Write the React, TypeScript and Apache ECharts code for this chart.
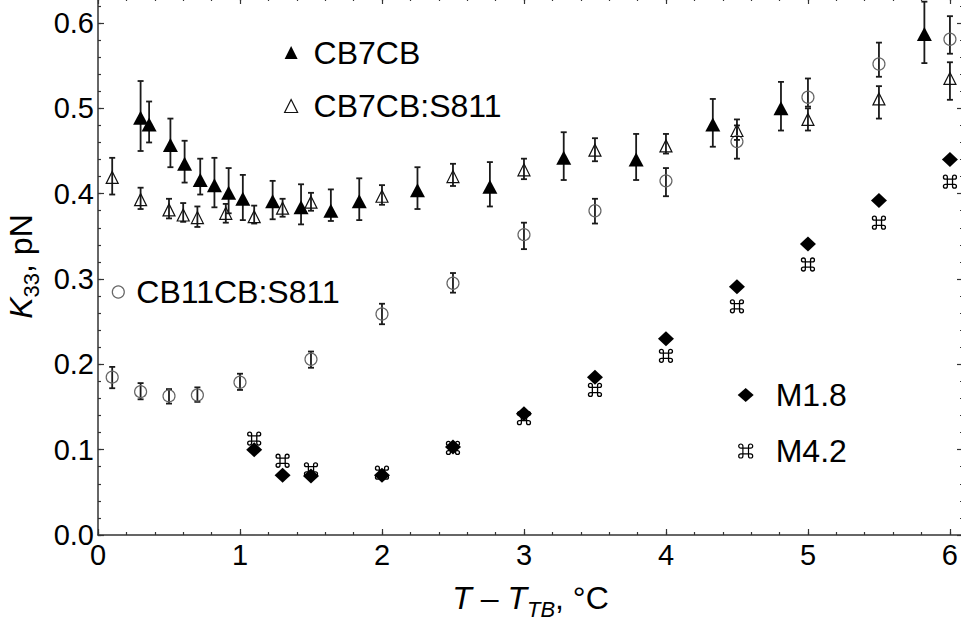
import React, { useEffect, useRef } from 'react';
import * as echarts from 'echarts';

// ---- data ----
const cb7cbX = [0.30, 0.36, 0.51, 0.61, 0.72, 0.82, 0.92, 1.02, 1.23, 1.43, 1.64, 1.84, 2.25, 2.76, 3.28, 3.79, 4.33, 4.81, 5.82];
const cb7cbY = [0.489, 0.481, 0.457, 0.435, 0.416, 0.410, 0.401, 0.394, 0.391, 0.384, 0.380, 0.391, 0.404, 0.408, 0.442, 0.440, 0.481, 0.500, 0.587];
const cb7cbLo = [0.450, 0.460, 0.431, 0.413, 0.399, 0.384, 0.377, 0.369, 0.370, 0.364, 0.368, 0.369, 0.382, 0.385, 0.416, 0.416, 0.455, 0.474, 0.553];
const cb7cbHi = [0.532, 0.508, 0.488, 0.462, 0.441, 0.442, 0.430, 0.422, 0.415, 0.411, 0.405, 0.418, 0.431, 0.437, 0.472, 0.470, 0.511, 0.531, 0.625];

const cb7s811X = [0.10, 0.30, 0.50, 0.60, 0.70, 0.90, 1.10, 1.30, 1.50, 2.00, 2.50, 3.00, 3.50, 4.00, 4.50, 5.00, 5.50, 6.00];
const cb7s811Y = [0.419, 0.393, 0.381, 0.375, 0.372, 0.377, 0.373, 0.383, 0.390, 0.397, 0.420, 0.428, 0.451, 0.456, 0.474, 0.487, 0.511, 0.535];
const cb7s811Lo = [0.399, 0.382, 0.371, 0.367, 0.361, 0.366, 0.365, 0.373, 0.380, 0.387, 0.409, 0.417, 0.438, 0.447, 0.463, 0.474, 0.488, 0.510];
const cb7s811Hi = [0.442, 0.407, 0.394, 0.389, 0.385, 0.388, 0.386, 0.394, 0.401, 0.410, 0.435, 0.441, 0.465, 0.470, 0.487, 0.500, 0.526, 0.554];

const cb11X = [0.10, 0.30, 0.50, 0.70, 1.00, 1.50, 2.00, 2.50, 3.00, 3.50, 4.00, 4.50, 5.00, 5.50, 6.00];
const cb11Y = [0.185, 0.168, 0.163, 0.164, 0.179, 0.206, 0.259, 0.295, 0.352, 0.380, 0.415, 0.461, 0.513, 0.552, 0.581];
const cb11Lo = [0.172, 0.159, 0.154, 0.156, 0.170, 0.196, 0.247, 0.284, 0.335, 0.365, 0.397, 0.441, 0.502, 0.537, 0.564];
const cb11Hi = [0.197, 0.178, 0.171, 0.173, 0.189, 0.215, 0.271, 0.307, 0.366, 0.394, 0.430, 0.480, 0.535, 0.577, 0.608];

const mX = [1.10, 1.30, 1.50, 2.00, 2.50, 3.00, 3.50, 4.00, 4.50, 5.00, 5.50, 6.00];
const m18Y = [0.100, 0.070, 0.069, 0.070, 0.103, 0.142, 0.185, 0.230, 0.291, 0.341, 0.392, 0.440];
const m42Y = [0.113, 0.087, 0.077, 0.073, 0.102, 0.137, 0.170, 0.210, 0.268, 0.317, 0.366, 0.414];

const xTicksMajor = 1;
const xTicksMinor = 0.2;
const yTicksMajor = 0.1;
const yTicksMinor = 0.02;
const X_MAX = 6.092;
const Y_MAX = 0.6293;

const FONT = '"Liberation Sans", Arial, Helvetica, sans-serif';
const CMD = 'path://M8,5A3,3,0,1,0,5,8H19A3,3,0,1,0,16,5V19A3,3,0,1,0,19,16H5A3,3,0,1,0,8,19Z';

const zip2 = (xs: number[], ys: number[]) => xs.map((x, i) => [x, ys[i]]);
const zip3 = (xs: number[], lo: number[], hi: number[]) => xs.map((x, i) => [x, lo[i], hi[i]]);

function errRender(_params: any, api: any) {
  const x = api.value(0);
  const p1 = api.coord([x, api.value(1)]);
  const p2 = api.coord([x, api.value(2)]);
  const w = 3;
  const style = { stroke: '#1a1a1a', lineWidth: 1.8 };
  return {
    type: 'group',
    children: [
      { type: 'line', shape: { x1: p1[0], y1: p1[1], x2: p2[0], y2: p2[1] }, style },
      { type: 'line', shape: { x1: p1[0] - w, y1: p1[1], x2: p1[0] + w, y2: p1[1] }, style },
      { type: 'line', shape: { x1: p2[0] - w, y1: p2[1], x2: p2[0] + w, y2: p2[1] }, style },
    ],
  };
}

const lineCol = '#333';
const TICK_FS = 29;
const LEG_FS = 32;
const TITLE_FS = 32;

function mkX(position: string, interval: number, len: number, major: boolean, labels: boolean, extra: any = {}) {
  return {
    type: 'value',
    position,
    min: 0,
    max: X_MAX,
    interval,
    axisLine: { show: major, onZero: false, lineStyle: { color: lineCol, width: 1.5 } },
    axisTick: { show: true, inside: true, length: len, lineStyle: { color: lineCol, width: 1.2 } },
    axisLabel: labels
      ? { show: true, showMaxLabel: false, margin: 5, fontSize: TICK_FS, color: '#000', fontFamily: FONT, formatter: (v: number) => String(Math.round(v)) }
      : { show: false },
    splitLine: { show: false },
    ...extra,
  };
}
function mkY(position: string, interval: number, len: number, major: boolean, labels: boolean, extra: any = {}) {
  return {
    type: 'value',
    position,
    min: 0,
    max: Y_MAX,
    interval,
    axisLine: { show: major, onZero: false, lineStyle: { color: lineCol, width: 1.5 } },
    axisTick: { show: true, inside: true, length: len, lineStyle: { color: lineCol, width: 1.2 } },
    axisLabel: labels
      ? { show: true, showMaxLabel: false, margin: 4, fontSize: TICK_FS, color: '#000', fontFamily: FONT, formatter: (v: number) => v.toFixed(1) }
      : { show: false },
    splitLine: { show: false },
    ...extra,
  };
}

export default function App() {
  const ref = useRef<HTMLDivElement>(null);
  useEffect(() => {
    const chart = echarts.init(ref.current!, null, { renderer: 'svg' });
    const richBase = { fontFamily: FONT, color: '#000', lineHeight: 44 };
    const option: any = {
      animation: false,
      backgroundColor: '#fff',
      grid: { left: 98, right: -2, top: -2, bottom: 90, containLabel: false, outerBoundsMode: 'none' },
      xAxis: [
        mkX('bottom', xTicksMajor, 6, true, true, {
          name: '{i|T} – {i|T}{s|TB}{n|, °C}',
          nameLocation: 'middle',
          nameGap: 41,
          nameTextStyle: {
            fontSize: TITLE_FS, fontFamily: FONT, color: '#000', lineHeight: 44,
            rich: {
              i: { ...richBase, fontSize: TITLE_FS, fontStyle: 'italic' },
              s: { ...richBase, fontSize: 22, fontStyle: 'italic', verticalAlign: 'bottom' },
              n: { ...richBase, fontSize: TITLE_FS },
            },
          },
        }),
        mkX('bottom', xTicksMinor, 3, false, false),
        mkX('top', xTicksMajor, 6, true, false),
        mkX('top', xTicksMinor, 3, false, false),
      ],
      yAxis: [
        mkY('left', yTicksMajor, 6, true, true, {
          name: '{i|K}{s|33}{n|, pN}',
          nameLocation: 'middle',
          nameRotate: 90,
          nameGap: 48,
          nameTextStyle: {
            fontSize: TITLE_FS, fontFamily: FONT, color: '#000', lineHeight: 44,
            rich: {
              i: { ...richBase, fontSize: TITLE_FS, fontStyle: 'italic' },
              s: { ...richBase, fontSize: 22, verticalAlign: 'bottom' },
              n: { ...richBase, fontSize: TITLE_FS },
            },
          },
        }),
        mkY('left', yTicksMinor, 3, false, false),
        mkY('right', yTicksMajor, 6, true, false),
        mkY('right', yTicksMinor, 3, false, false),
      ],
      legend: [
        {
          orient: 'vertical', left: 284, top: 36.5, padding: 0, itemGap: 21.5,
          itemWidth: 13, itemHeight: 13, selectedMode: false,
          textStyle: { fontSize: LEG_FS, color: '#000', fontFamily: FONT, padding: [0, 0, 0, 11] },
          data: [
            { name: 'CB7CB', icon: 'triangle', itemStyle: { color: '#000', borderWidth: 0 } },
            { name: 'CB7CB:S811', icon: 'triangle', itemStyle: { color: 'rgba(0,0,0,0)', borderColor: '#111', borderWidth: 1.2 } },
          ],
        },
        {
          orient: 'vertical', left: 111.7, top: 276, padding: 0,
          itemWidth: 12, itemHeight: 12, selectedMode: false,
          textStyle: { fontSize: LEG_FS, color: '#000', fontFamily: FONT, padding: [0, 0, 0, 7] },
          data: [
            { name: 'CB11CB:S811', icon: 'circle', itemStyle: { color: 'rgba(0,0,0,0)', borderColor: '#666', borderWidth: 1.2 } },
          ],
        },
        {
          orient: 'vertical', left: 737.7, top: 379, padding: 0, itemGap: 24,
          itemWidth: 16, itemHeight: 14, selectedMode: false,
          textStyle: { fontSize: LEG_FS, color: '#000', fontFamily: FONT, padding: [0, 0, 0, 17] },
          data: [
            { name: 'M1.8', icon: 'diamond', itemStyle: { color: '#000', borderWidth: 0 } },
            { name: 'M4.2', icon: CMD, itemStyle: { color: 'rgba(0,0,0,0)', borderColor: '#000', borderWidth: 1.2 } },
          ],
        },
      ],
      series: [
        { type: 'custom', name: 'CB7CB err', renderItem: errRender, data: zip3(cb7cbX, cb7cbLo, cb7cbHi), encode: { x: 0, y: [1, 2] }, z: 1, silent: true },
        { type: 'custom', name: 'CB7CB:S811 err', renderItem: errRender, data: zip3(cb7s811X, cb7s811Lo, cb7s811Hi), encode: { x: 0, y: [1, 2] }, z: 1, silent: true },
        { type: 'custom', name: 'CB11CB:S811 err', renderItem: errRender, data: zip3(cb11X, cb11Lo, cb11Hi), encode: { x: 0, y: [1, 2] }, z: 1, silent: true },
        {
          type: 'scatter', name: 'CB11CB:S811', data: zip2(cb11X, cb11Y), symbol: 'circle', symbolSize: 12, z: 2,
          itemStyle: { color: 'rgba(0,0,0,0)', borderColor: '#666', borderWidth: 1.2, opacity: 1 },
        },
        {
          type: 'scatter', name: 'CB7CB:S811', data: zip2(cb7s811X, cb7s811Y), symbol: 'triangle', symbolSize: 12, z: 3,
          itemStyle: { color: 'rgba(0,0,0,0)', borderColor: '#111', borderWidth: 1.2, opacity: 1 },
        },
        {
          type: 'scatter', name: 'CB7CB', data: zip2(cb7cbX, cb7cbY), symbol: 'triangle', symbolSize: [15, 14], z: 4,
          itemStyle: { color: '#000', opacity: 1 },
        },
        {
          type: 'scatter', name: 'M4.2', data: zip2(mX, m42Y), symbol: CMD, symbolSize: 13, z: 4,
          itemStyle: { color: 'rgba(0,0,0,0)', borderColor: '#000', borderWidth: 1.3, opacity: 1 },
        },
        {
          type: 'scatter', name: 'M1.8', data: zip2(mX, m18Y), symbol: 'diamond', symbolSize: [16, 15], z: 5,
          itemStyle: { color: '#000', opacity: 1 },
        },
      ],
    };
    chart.setOption(option);
    return () => chart.dispose();
  }, []);
  return <div ref={ref} style={{ position: 'absolute', left: 0, top: 0, width: 961, height: 625 }} />;
}
